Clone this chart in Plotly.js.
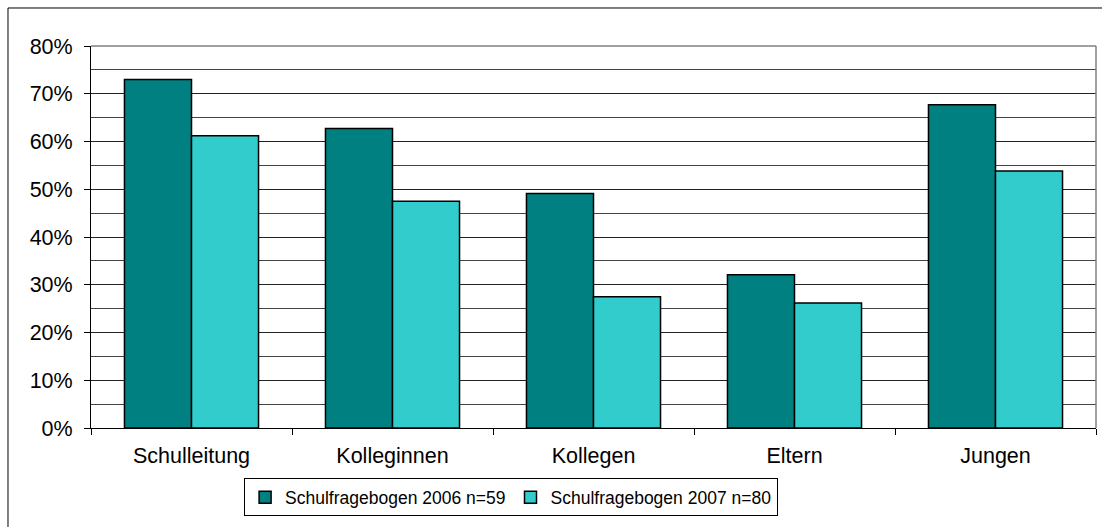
<!DOCTYPE html>
<html>
<head>
<meta charset="utf-8">
<script src="https://cdn.plot.ly/plotly-3.0.1.min.js"></script>
<style>html,body{margin:0;padding:0;background:#fff;} #chart{width:1102px;height:527px;}</style>
</head>
<body>
<div id="chart"></div>
<script>
const categories = ["Schulleitung", "Kolleginnen", "Kollegen", "Eltern", "Jungen"];
const series2006 = [73, 62.7, 49.1, 32.1, 67.7];
const series2007 = [61.2, 47.5, 27.5, 26.2, 53.8];
const seriesNames = ["Schulfragebogen 2006 n=59", "Schulfragebogen 2007 n=80"];
const yTickVals = [0, 10, 20, 30, 40, 50, 60, 70, 80];
const yTickText = ["0%", "10%", "20%", "30%", "40%", "50%", "60%", "70%", "80%"];

const traces = [
  {type: "bar", name: seriesNames[0], x: categories, y: series2006,
   marker: {color: "#008080", line: {color: "#000", width: 1.5}}},
  {type: "bar", name: seriesNames[1], x: categories, y: series2007,
   marker: {color: "#33CCCC", line: {color: "#000", width: 1.5}}}
];

const layout = {
  width: 1102, height: 527,
  margin: {l: 91, r: 6, t: 46, b: 99},
  paper_bgcolor: "#fff", plot_bgcolor: "#fff",
  font: {family: "Liberation Sans, Arial, sans-serif", size: 21.5, color: "#000"},
  barmode: "group", bargap: 0.333, bargroupgap: 0,
  showlegend: true,
  legend: {orientation: "h", x: 0.418, xanchor: "center", y: -0.132, yanchor: "top",
           bordercolor: "#000", borderwidth: 1, bgcolor: "#fff",
           font: {size: 17.5}, itemwidth: 30, tracegroupgap: 0},
  xaxis: {showline: true, linecolor: "#000", linewidth: 1, ticks: "outside", ticklen: 6,
          tickcolor: "#000", tickson: "boundaries", showgrid: false, zeroline: false,
          ticklabelstandoff: 8, mirror: false},
  yaxis: {range: [0, 80], tickvals: yTickVals, ticktext: yTickText, showline: true,
          linecolor: "#000", linewidth: 1, ticks: "outside", ticklen: 6, tickcolor: "#000",
          showgrid: true, gridcolor: "#222", gridwidth: 1, zeroline: false,
          minor: {dtick: 5, showgrid: true, gridcolor: "#444", gridwidth: 1, ticks: ""},
          ticklabelstandoff: 7},
  shapes: [
    {type: "line", xref: "paper", yref: "paper", x0: 0, x1: 1, y0: 1, y1: 1,
     line: {color: "#808080", width: 1.5}},
    {type: "line", xref: "paper", yref: "paper", x0: 1, x1: 1, y0: 0, y1: 1,
     line: {color: "#808080", width: 1.5}},
    {type: "rect", xref: "paper", yref: "paper", x0: -0.0826, x1: 1.2, y0: -0.6, y1: 1.0995,
     line: {color: "#000", width: 1}, fillcolor: "rgba(0,0,0,0)", layer: "below"}
  ]
};

Plotly.newPlot("chart", traces, layout, {displayModeBar: false, staticPlot: true});
</script>
</body>
</html>
